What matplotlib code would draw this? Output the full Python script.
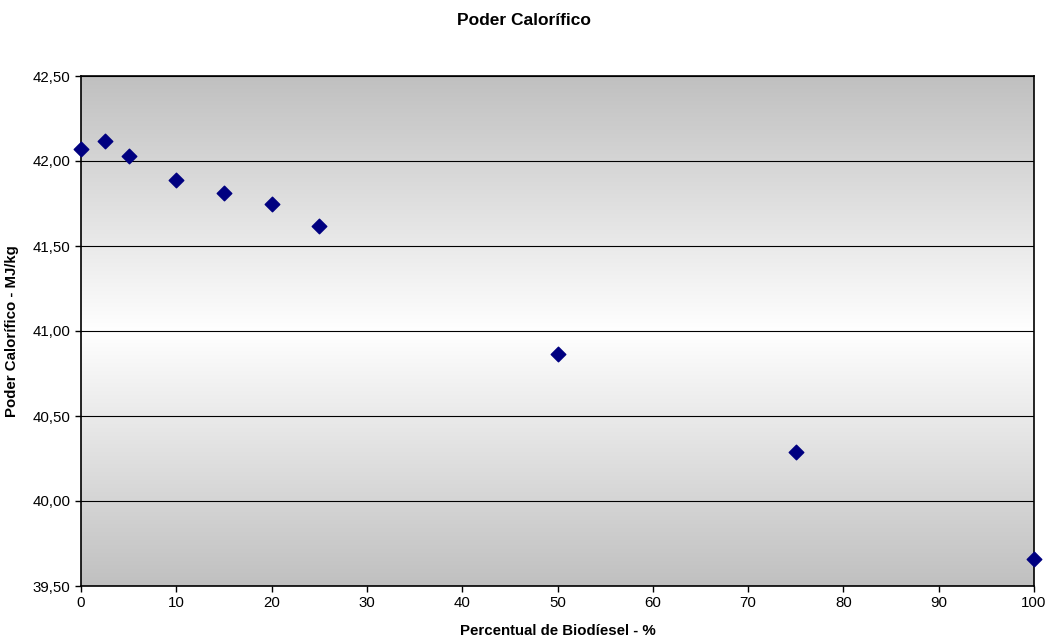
import numpy as np
import matplotlib.pyplot as plt
from matplotlib.colors import LinearSegmentedColormap

plt.rcParams['font.family'] = ['Liberation Sans', 'DejaVu Sans']

# teor de biodiesel na mistura (%) e poder calorifico medido (MJ/kg)
percentual = [0, 2.5, 5, 10, 15, 20, 25, 50, 75, 100]
poder_calorifico = [42.07, 42.12, 42.03, 41.89, 41.81, 41.75, 41.62, 40.865, 40.29, 39.66]
yticks = [39.5, 40.0, 40.5, 41.0, 41.5, 42.0, 42.5]
xticks = list(range(0, 101, 10))

fig = plt.figure(figsize=(10.48, 6.41), dpi=100)
ax = fig.add_axes([81 / 1048, 1 - 586 / 641, (1034 - 81) / 1048, (586 - 76) / 641])

# fundo em degrade: cinza em cima e embaixo, branco no meio
grad = LinearSegmentedColormap.from_list('fundo', ['#c0c0c0', '#ffffff', '#c0c0c0'])
ax.imshow(np.linspace(0, 1, 256).reshape(-1, 1), cmap=grad, aspect='auto',
          extent=[0, 100, 39.5, 42.5], origin='upper', zorder=0)

for y in yticks:
    ax.axhline(y, color='#000000', lw=0.8, zorder=1)

ax.scatter(percentual, poder_calorifico, marker='D', s=55, color='#000080',
           edgecolors='#000080', zorder=3, clip_on=False)

ax.set_xlim(0, 100)
ax.set_ylim(39.5, 42.5)
ax.set_xticks(xticks)
ax.set_yticks(yticks)
ax.set_yticklabels([f'{v:.2f}'.replace('.', ',') for v in yticks])
ax.tick_params(labelsize=10.8, length=4, width=1, direction='out', colors='black')
for s in ax.spines.values():
    s.set_linewidth(1.2)
    s.set_color('black')

ax.set_xlabel('Percentual de Biodíesel - %', fontsize=10.8, fontweight='bold', labelpad=10)
ax.set_ylabel('Poder Calorífico - MJ/kg', fontsize=10.8, fontweight='bold', labelpad=10)
fig.suptitle('Poder Calorífico', fontsize=12.5, fontweight='bold', y=0.98)

fig.savefig('out.png', dpi=100)
